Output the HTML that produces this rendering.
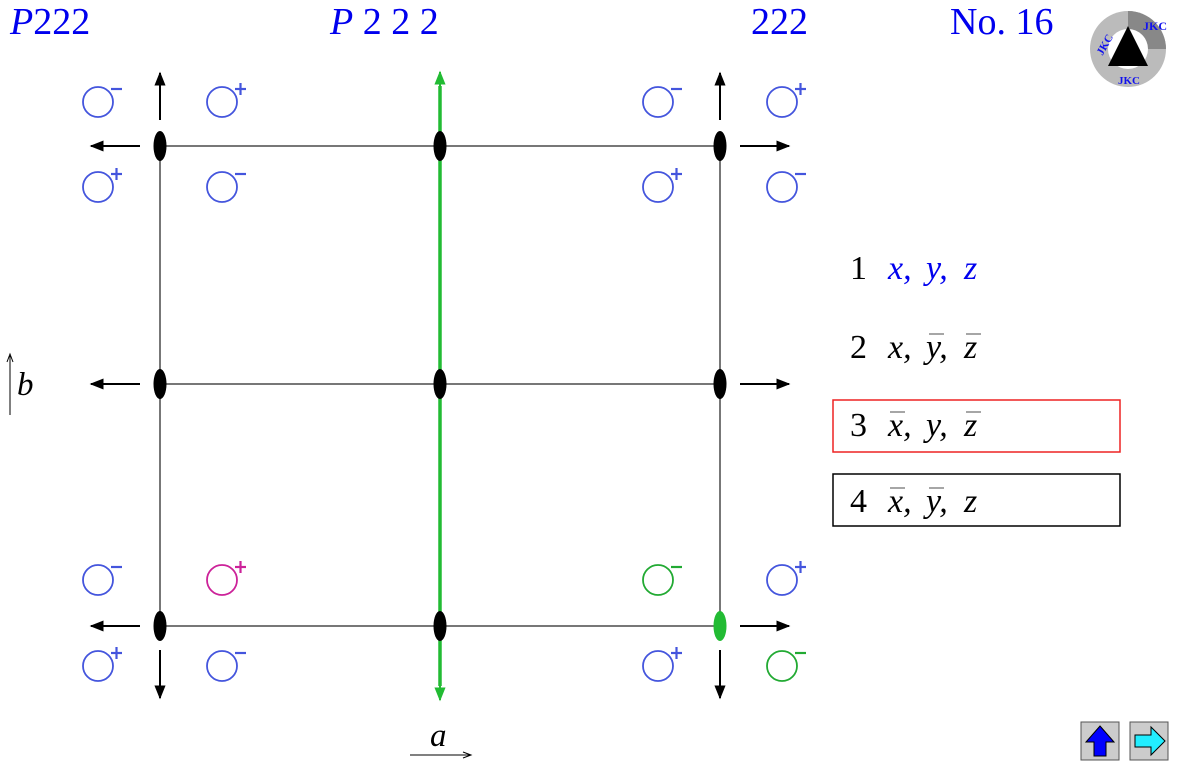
<!DOCTYPE html>
<html><head><meta charset="utf-8"><style>
body{margin:0;background:#fff;width:1180px;height:770px;overflow:hidden}
svg{display:block}
text{font-family:"Liberation Serif",serif}
</style></head><body>
<svg width="1180" height="770" viewBox="0 0 1180 770">
<defs>
<marker id="ah" viewBox="0 0 10 10" refX="9" refY="5" markerWidth="7" markerHeight="7" orient="auto" markerUnits="strokeWidth"><path d="M0,1 L10,5 L0,9 z" fill="#000"/></marker>
<marker id="ahg" viewBox="0 0 10 10" refX="9" refY="5" markerWidth="7" markerHeight="7" orient="auto" markerUnits="strokeWidth"><path d="M0,1 L10,5 L0,9 z" fill="#22bb33"/></marker>
</defs>
<g fill="#0000ee" font-size="38">
<text x="10" y="34"><tspan font-style="italic">P</tspan>222</text>
<text x="330" y="34"><tspan font-style="italic">P</tspan> 2 2 2</text>
<text x="808" y="34" text-anchor="end">222</text>
<text x="950" y="34">No. 16</text>
</g>
<g>
<circle cx="1128" cy="49" r="38" fill="#bbb"/>
<path d="M1128,11 A38,38 0 0 1 1166,49 L1128,49z" fill="#888"/>
<circle cx="1128" cy="49" r="20" fill="#fff"/>
<path d="M1128,26 L1148,66 L1108,66z" fill="#000"/>
<text x="1143" y="30" font-family="Liberation Sans" font-weight="bold" font-size="12" fill="#11e">JKC</text>
<text x="1096" y="55" font-family="Liberation Sans" font-weight="bold" font-size="11" fill="#11e" transform="rotate(-60 1100 50)">JKC</text>
<text x="1118" y="84" font-family="Liberation Sans" font-weight="bold" font-size="11" fill="#11e">JKC</text>
</g>
<g stroke="#777" stroke-width="2">
<line x1="160" y1="146" x2="720" y2="146"/><line x1="160" y1="384" x2="720" y2="384"/><line x1="160" y1="626" x2="720" y2="626"/>
<line x1="160" y1="146" x2="160" y2="626"/><line x1="720" y1="146" x2="720" y2="626"/>
</g>
<line x1="440" y1="86" x2="440" y2="686" stroke="#22bb33" stroke-width="3.5"/>
<line x1="440" y1="90" x2="440" y2="72" stroke="#22bb33" stroke-width="2" marker-end="url(#ahg)"/>
<line x1="440" y1="660" x2="440" y2="700" stroke="#22bb33" stroke-width="2" marker-end="url(#ahg)"/>
<g stroke="#000" stroke-width="2" marker-end="url(#ah)">
<line x1="160" y1="120" x2="160" y2="73"/><line x1="720" y1="120" x2="720" y2="73"/>
<line x1="160" y1="650" x2="160" y2="698"/><line x1="720" y1="650" x2="720" y2="698"/>
<line x1="140" y1="146" x2="91" y2="146"/><line x1="140" y1="384" x2="91" y2="384"/><line x1="140" y1="626" x2="91" y2="626"/>
<line x1="740" y1="146" x2="789" y2="146"/><line x1="740" y1="384" x2="789" y2="384"/><line x1="740" y1="626" x2="789" y2="626"/>
</g>
<g id="ells"></g>
<g id="circs"></g>
<g font-size="34">
<g><text x="850" y="279">1</text><g fill="#0000ee" font-style="italic"><text x="888" y="279">x,</text><text x="926" y="279">y,</text><text x="964" y="279">z</text></g></g>
<g><text x="850" y="358">2</text><g font-style="italic"><text x="888" y="358">x,</text><text x="926" y="358">y,</text><text x="964" y="358">z</text></g></g>
<rect x="833" y="400" width="287" height="52" fill="none" stroke="#e22" stroke-width="1.5"/>
<g><text x="850" y="436">3</text><g font-style="italic"><text x="888" y="436">x,</text><text x="926" y="436">y,</text><text x="964" y="436">z</text></g></g>
<rect x="833" y="474" width="287" height="52" fill="none" stroke="#000" stroke-width="1.5"/>
<g><text x="850" y="512">4</text><g font-style="italic"><text x="888" y="512">x,</text><text x="926" y="512">y,</text><text x="964" y="512">z</text></g></g>
</g>
<g stroke="#777" stroke-width="1.3">
<line x1="929" y1="334" x2="944" y2="334"/><line x1="966" y1="334" x2="981" y2="334"/>
<line x1="890" y1="412" x2="905" y2="412"/><line x1="966" y1="412" x2="981" y2="412"/>
<line x1="890" y1="488" x2="905" y2="488"/><line x1="929" y1="488" x2="944" y2="488"/>
</g>
<g><line x1="10" y1="415" x2="10" y2="356" stroke="#000" stroke-width="1"/><path d="M7,362 L10,354 L13,362" fill="none" stroke="#000"/><text x="17" y="395" font-size="33" font-style="italic">b</text></g>
<g><line x1="410" y1="755" x2="470" y2="755" stroke="#000"/><path d="M463,752 L471,755 L463,758" fill="none" stroke="#000"/><text x="430" y="746" font-size="33" font-style="italic">a</text></g>
<g><rect x="1081" y="722" width="38" height="38" fill="#ccc" stroke="#555"/><path d="M1100,726 L1114,742 L1106,742 L1106,756 L1094,756 L1094,742 L1086,742z" fill="#0000ff" stroke="#000"/></g>
<g><rect x="1130" y="722" width="38" height="38" fill="#ccc" stroke="#555"/><path d="M1165,741 L1151,727 L1151,735 L1135,735 L1135,747 L1151,747 L1151,755z" fill="#22eeff" stroke="#000"/></g>
<script>
const ellX=[160,440,720,160,440,720,160,440,720];
const ellY=[146,146,146,384,384,384,626,626,626];
const ellC=["#000","#000","#000","#000","#000","#000","#000","#000","#22bb33"];
const cx=[98,222,658,782,98,222,658,782,98,222,658,782,98,222,658,782];
const cy=[102,102,102,102,187,187,187,187,580,580,580,580,666,666,666,666];
const sg=["-","+","-","+","+","-","+","-","-","+","-","+","+","-","+","-"];
const col=["#4455dd","#4455dd","#4455dd","#4455dd","#4455dd","#4455dd","#4455dd","#4455dd","#4455dd","#cc2299","#22aa33","#4455dd","#4455dd","#4455dd","#4455dd","#22aa33"];
const NS="http://www.w3.org/2000/svg";
const ge=document.getElementById('ells');
ellX.forEach((x,i)=>{const e=document.createElementNS(NS,'ellipse');


e.setAttribute('cx',x);e.setAttribute('cy',ellY[i]);e.setAttribute('rx',6.5);e.setAttribute('ry',15);e.setAttribute('fill',ellC[i]);ge.appendChild(e);});
const gc=document.getElementById('circs');
cx.forEach((x,i)=>{const g=document.createElementNS(NS,'g');


const c=document.createElementNS(NS,'circle');c.setAttribute('cx',x);c.setAttribute('cy',cy[i]);c.setAttribute('r',15);c.setAttribute('fill','none');c.setAttribute('stroke',col[i]);c.setAttribute('stroke-width',1.8);g.appendChild(c);
const h=document.createElementNS(NS,'line');h.setAttribute('x1',x+13);h.setAttribute('x2',x+24);h.setAttribute('y1',cy[i]-13);h.setAttribute('y2',cy[i]-13);h.setAttribute('stroke',col[i]);h.setAttribute('stroke-width',2.2);g.appendChild(h);
if(sg[i]=="+"){const v=document.createElementNS(NS,'line');v.setAttribute('x1',x+18.5);v.setAttribute('x2',x+18.5);v.setAttribute('y1',cy[i]-19);v.setAttribute('y2',cy[i]-7);v.setAttribute('stroke',col[i]);v.setAttribute('stroke-width',2.2);g.appendChild(v);}
gc.appendChild(g);});
</script>
</svg>
</body></html>
